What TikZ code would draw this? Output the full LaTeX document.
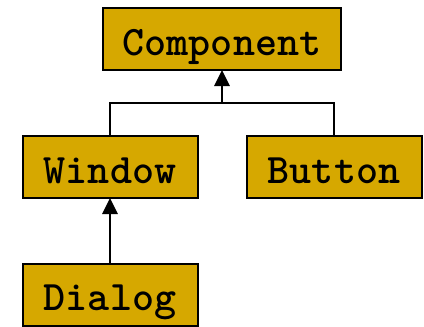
\documentclass[tikz,border=0pt]{standalone}
\usepackage{fontspec}
\usetikzlibrary{arrows.meta}

\definecolor{boxgold}{RGB}{214,168,0}
\tikzset{
  classbox/.style={draw=black, line width=1.5pt, fill=boxgold, inner sep=0pt, outer sep=0pt,
    minimum height=46.5pt, text height=24pt, text depth=0pt,
    font=\fontsize{31.5}{34}\selectfont\ttfamily\bfseries},
  inherit/.style={line width=1.5pt, -{Triangle[width=11.5pt,length=12pt]}}
}

\begin{document}
\begin{tikzpicture}[x=0.75pt,y=0.75pt,yscale=-1,xscale=1]
\useasboundingbox (0,0) rectangle (424,326);

% Class boxes
\node[classbox, minimum width=178.5pt] (component) at (222,39) {Component};
\node[classbox, minimum width=131.25pt] (window) at (110,167) {Window};
\node[classbox, minimum width=131.25pt] (button) at (334,167) {Button};
\node[classbox, minimum width=131.25pt] (dialog) at (110,294.5) {Dialog};

% Connectors
\coordinate (join) at (222,103);
\draw[line width=1.5pt] (window.north) |- (join) -| (button.north);
\draw[inherit] (join) -- (component.south);
\draw[inherit] (dialog.north) -- (window.south);

\end{tikzpicture}
\end{document}
